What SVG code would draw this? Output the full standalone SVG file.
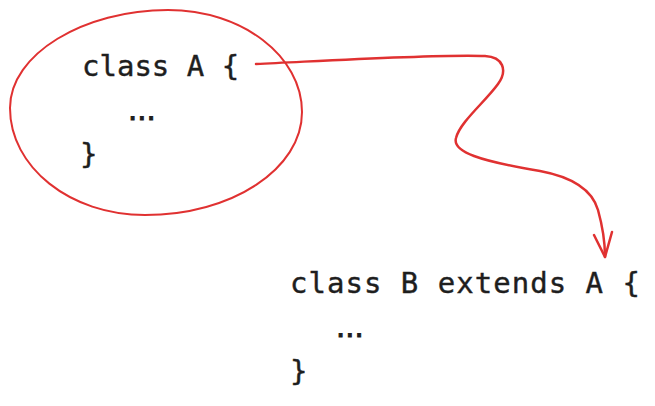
<svg xmlns="http://www.w3.org/2000/svg" width="655" height="406" viewBox="0 0 655 406">
  <style>
    .code { font-family: "DejaVu Sans Mono", "Liberation Mono", monospace; font-size: 29px; fill: #1e1e1e; stroke: #1e1e1e; stroke-width: 0.4px; }
    .dots { font-family: "DejaVu Sans", sans-serif; font-size: 29px; fill: #1e1e1e; stroke: #1e1e1e; stroke-width: 1px; }
    .red { fill: none; stroke: #e03131; stroke-linecap: round; stroke-linejoin: round; }
  </style>
  <rect width="655" height="406" fill="#ffffff"/>
  <g id="classA">
    <path class="red" stroke-width="2" d="M10,108 C10,54 84,10 168,10 C242,10 302,56 302,112 C302,169 232,215 145,215 C70,215 10,167 10,108 Z"/>
    <text class="code" x="82" y="76">class A {</text>
    <text class="dots" x="128" y="120">...</text>
    <text class="code" x="80" y="164">}</text>
  </g>
  <g id="classB">
    <text class="code" x="290" y="293" textLength="350" lengthAdjust="spacing">class B extends A {</text>
    <text class="dots" x="336" y="337">...</text>
    <text class="code" x="290" y="381">}</text>
  </g>
  <g id="connectors">
    <path class="red" stroke-width="2.5" d="M256,64 C340,60 440,54 485,56 C503,57 508,70 498,84 C485,102 460,122 456,138 C452,152 480,161 540,171 C572,177 592,189 598,210 C603,228 605,245 605,257"/>
    <path class="red" stroke-width="2.5" d="M594,235 L605,257 L612,232"/>
  </g>
</svg>
